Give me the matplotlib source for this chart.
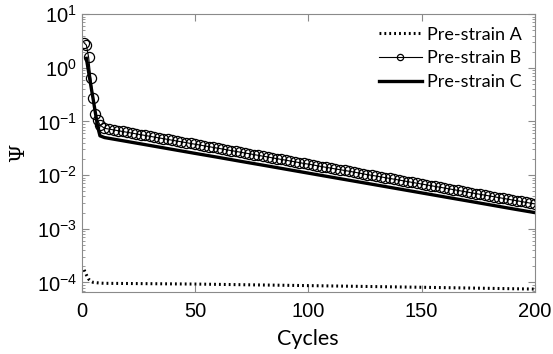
import matplotlib
matplotlib.use("Agg")
import matplotlib.pyplot as plt
from matplotlib.ticker import LogLocator, NullFormatter, FixedLocator

# ---------------- data ----------------
cycles_a = [1, 2, 3, 4, 5, 6, 8, 10, 50, 100, 150, 200]
psi_a = [1.71e-4, 1.38e-4, 1.15e-4, 1.05e-4, 1.0e-4, 9.9e-5, 9.7e-5, 9.6e-5,
         9.3e-5, 8.7e-5, 8.1e-5, 7.5e-5]

cycles_b = [1, 2, 3, 4, 5, 6, 7, 8] + list(range(10, 201, 2))
psi_b = [2.92, 2.65, 1.56, 0.635, 0.269, 0.14, 0.106, 0.0857,
         0.0745, 0.0720, 0.0696, 0.0672, 0.0650, 0.0628, 0.0607, 0.0586, 0.0567, 0.0548,
         0.0529, 0.0511, 0.0494, 0.0478, 0.0462, 0.0446, 0.0431, 0.0417, 0.0403, 0.0389,
         0.0376, 0.0364, 0.0351, 0.0340, 0.0328, 0.0317, 0.0307, 0.0296, 0.0286, 0.0277,
         0.0267, 0.0258, 0.0250, 0.0241, 0.0233, 0.0225, 0.0218, 0.0210, 0.0203, 0.0196,
         0.0190, 0.0183, 0.0177, 0.0171, 0.0165, 0.0160, 0.0155, 0.0149, 0.0144, 0.0139,
         0.0135, 0.0130, 0.0126, 0.0122, 0.0118, 0.0114, 0.0110, 0.0106, 0.0102, 0.00990,
         0.00959, 0.00927, 0.00896, 0.00866, 0.00837, 0.00809, 0.00781, 0.00755, 0.00730, 0.00705,
         0.00681, 0.00659, 0.00637, 0.00615, 0.00595, 0.00575, 0.00555, 0.00537, 0.00519, 0.00501,
         0.00484, 0.00468, 0.00452, 0.00437, 0.00423, 0.00408, 0.00395, 0.00381, 0.00369, 0.00356,
         0.00344, 0.00333, 0.00322, 0.00311, 0.00300, 0.00290]

cycles_c = [2, 3, 4, 5, 6, 7, 8, 10, 20, 30, 40, 50, 60, 70, 80, 90, 100,
            110, 120, 130, 140, 150, 160, 170, 180, 190, 200]
psi_c = [1.5, 0.83, 0.46, 0.26, 0.143, 0.079, 0.054, 0.0501, 0.0423, 0.0357, 0.0301,
         0.0254, 0.0215, 0.0181, 0.0153, 0.0129, 0.01088, 0.00918, 0.00775, 0.00654,
         0.00552, 0.00466, 0.00393, 0.00332, 0.0028, 0.00236, 0.0020]

labels = ["Pre-strain A", "Pre-strain B", "Pre-strain C"]
x_ticks = [0, 50, 100, 150, 200]

# ---------------- figure ----------------
plt.rcParams['font.family'] = ['Liberation Sans', 'DejaVu Sans']
plt.rcParams['mathtext.fontset'] = 'custom'
plt.rcParams['mathtext.rm'] = 'Liberation Sans'
plt.rcParams['mathtext.it'] = 'Liberation Sans:italic'

fig = plt.figure(figsize=(5.53, 3.54), dpi=100)
ax = fig.add_axes([0.148, 0.175, 0.819, 0.785])

ax.plot(cycles_a, psi_a, color='black', linestyle=(0, (0.6, 1.0)), linewidth=2.2,
        label=labels[0])
ax.plot(cycles_b, psi_b, color='black', linewidth=0.8, marker='o', markersize=7.3,
        markerfacecolor='none', markeredgewidth=0.9, label=labels[1])
ax.plot(cycles_c, psi_c, color='black', linewidth=2.4, label=labels[2])

ax.set_yscale('log')
ax.set_xlim(0, 200)
ax.set_ylim(6.6e-5, 10)
ax.xaxis.set_major_locator(FixedLocator(x_ticks))
ax.yaxis.set_major_locator(LogLocator(base=10, numticks=10))
ax.yaxis.set_minor_locator(LogLocator(base=10, subs=range(2, 10), numticks=20))
ax.yaxis.set_minor_formatter(NullFormatter())

edge = '#8a8a8a'
for s in ax.spines.values():
    s.set_color(edge)
    s.set_linewidth(0.8)
ax.tick_params(axis='both', which='both', direction='in', top=True, right=True,
               color=edge, labelcolor='black')
ax.tick_params(axis='both', which='major', length=5, width=0.8, labelsize=14.5)
ax.tick_params(axis='y', which='minor', length=2.5, width=0.6)
ax.tick_params(axis='x', which='major', pad=7)

ax.set_xlabel("Cycles", fontsize=15.5, family=['Lato', 'DejaVu Sans'], labelpad=6)
ax.set_ylabel("Ψ", fontsize=15, family=['DejaVu Serif'], labelpad=6)

leg = ax.legend(loc='upper right', frameon=False,
                prop={'family': ['Lato', 'DejaVu Sans'], 'size': 13},
                handlelength=2.4, handletextpad=0.3, labelspacing=0.42,
                borderaxespad=0.3)
leg.legend_handles[1].set_markersize(4.5)

fig.savefig("out.png", dpi=100)
